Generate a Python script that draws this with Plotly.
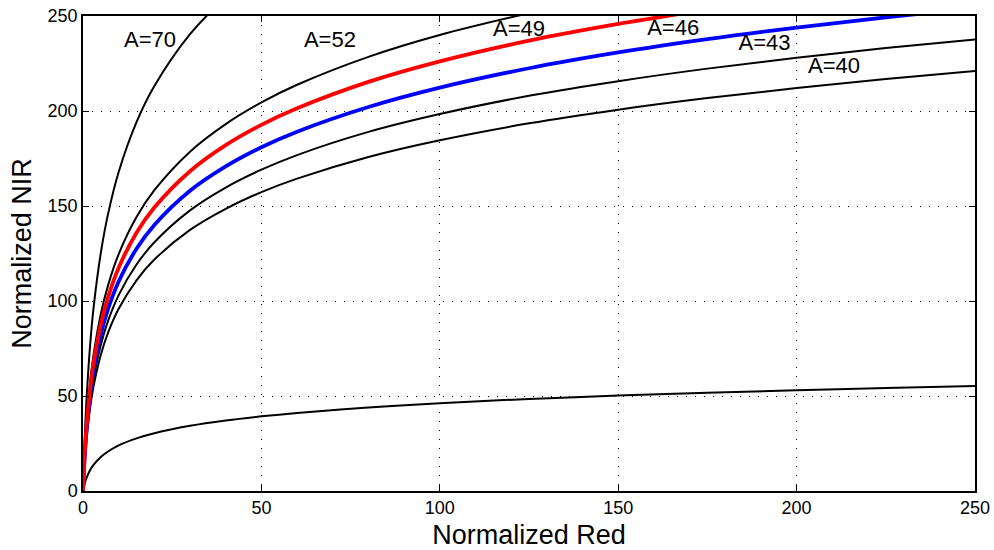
import plotly.graph_objects as go

# Normalized Red sample positions
red = [0, 0.5, 1, 2, 3, 5, 7, 10, 15, 20, 30, 40, 50, 60, 80, 100, 125, 150, 175, 200, 225, 250]

# Normalized NIR values
nir_10 = [0, 4.1, 6.9, 11.0, 13.9, 17.9, 20.8, 24.0, 27.7, 30.4, 34.3, 37.1, 39.3, 41.1, 43.9, 46.2, 48.4, 50.2, 51.7, 53.0, 54.2, 55.3]
nir_40 = [0, 16.2, 27.7, 43.9, 55.5, 71.7, 83.2, 95.9, 110.9, 121.8, 137.4, 148.5, 157.3, 164.4, 175.8, 184.6, 193.5, 200.7, 206.8, 212.1, 216.8, 221.0]
nir_43 = [0, 17.4, 29.8, 47.2, 59.6, 77.0, 89.4, 103.1, 119.2, 130.9, 147.7, 159.7, 169.1, 176.8, 189.0, 198.4, 208.0, 215.7, 222.3, 228.0, 233.1, 237.6]
nir_46 = [0, 18.7, 31.9, 50.5, 63.8, 82.4, 95.7, 110.3, 127.5, 140.0, 158.0, 170.8, 180.9, 189.1, 202.1, 212.3, 222.5, 230.8, 237.8, 243.9, 249.3, 254.2]
nir_49 = [0, 19.9, 34.0, 53.8, 67.9, 87.8, 101.9, 117.5, 135.9, 149.2, 168.3, 182.0, 192.7, 201.4, 215.3, 226.1, 237.0, 245.8, 253.4]
nir_52 = [0, 21.1, 36.0, 57.1, 72.1, 93.2, 108.1, 124.7, 144.2, 158.3, 178.6, 193.1, 204.5, 213.8, 228.5, 240.0, 251.5]
nir_70 = [0, 28.4, 48.5, 76.9, 97.0, 125.4, 145.6, 167.9, 194.1, 213.1, 240.4, 260.0]

# Curve labels
label_text = ["A=70", "A=52", "A=49", "A=46", "A=43", "A=40"]
label_x = [18.8, 69.2, 122.2, 165.4, 191.0, 210.5]
label_y = [236.8, 236.8, 242.6, 243.0, 235.0, 223.0]

x_ticks = [0, 50, 100, 150, 200, 250]
y_ticks = [0, 50, 100, 150, 200, 250]

FONT = "Liberation Sans, Arial, sans-serif"

curves = [
    (nir_10, "black", 2.0),
    (nir_40, "black", 2.0),
    (nir_43, "black", 2.0),
    (nir_52, "black", 2.0),
    (nir_70, "black", 2.0),
    (nir_46, "blue", 3.8),
    (nir_49, "red", 3.8),
]

fig = go.Figure()
for vals, color, w in curves:
    fig.add_trace(go.Scatter(
        x=red[:len(vals)], y=vals, mode="lines",
        line=dict(color=color, width=w, shape="spline", smoothing=1.0),
        showlegend=False, hoverinfo="skip",
    ))

fig.add_trace(go.Scatter(
    x=label_x, y=label_y, mode="text", text=label_text,
    textfont=dict(family=FONT, size=22, color="black"),
    showlegend=False, hoverinfo="skip",
))

axis_common = dict(
    showline=True, linecolor="black", linewidth=1.5, mirror="ticks",
    ticks="inside", ticklen=6, tickwidth=1, tickcolor="black",
    showgrid=True, gridcolor="black", gridwidth=1, griddash="1px,8px",
    zeroline=False, automargin=False,
    tickfont=dict(family=FONT, size=18, color="black"),
)

fig.update_xaxes(range=[0, 250], tickvals=x_ticks, ticktext=[str(v) for v in x_ticks],
                 title=dict(text="Normalized Red", font=dict(family=FONT, size=27, color="black"), standoff=8),
                 **axis_common)
fig.update_yaxes(range=[0, 250], tickvals=y_ticks, ticktext=[str(v) for v in y_ticks],
                 title=dict(text="Normalized NIR", font=dict(family=FONT, size=27, color="black"), standoff=8),
                 **axis_common)

fig.update_layout(
    width=994, height=550,
    margin=dict(l=83, r=19, t=16, b=59),
    plot_bgcolor="white", paper_bgcolor="white",
)

fig.write_html("out.html")
